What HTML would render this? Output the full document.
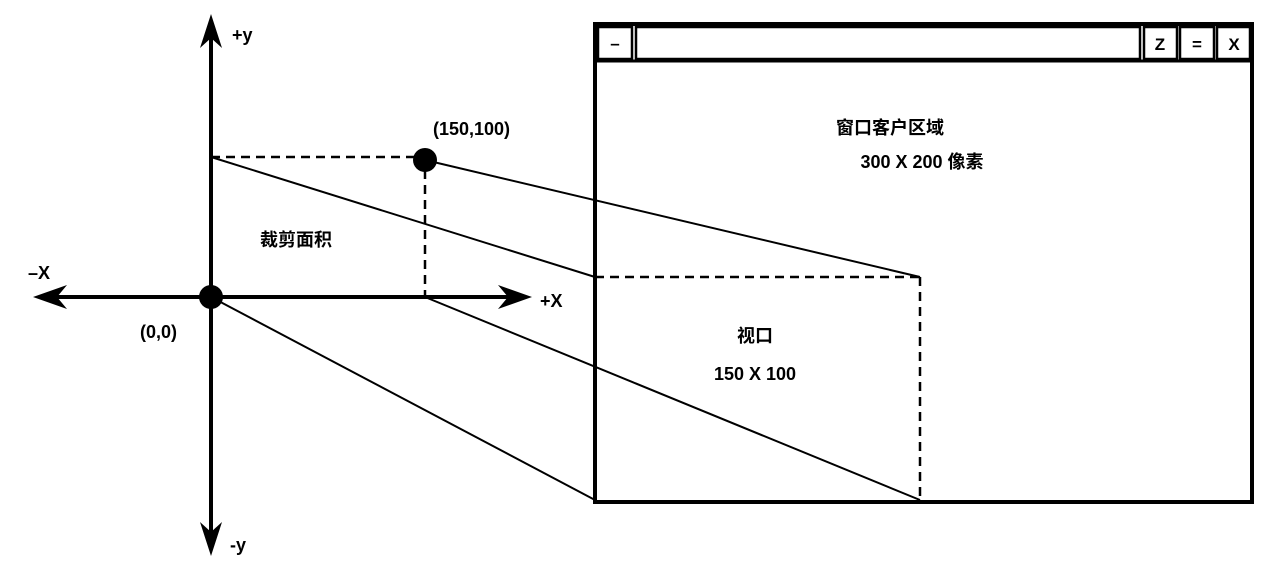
<!DOCTYPE html>
<html><head><meta charset="utf-8"><style>
html,body{margin:0;padding:0;background:#fff;}
svg{display:block;}
text{font-family:"Liberation Sans","Noto Sans CJK SC",sans-serif;font-weight:bold;fill:#000;}
</style></head><body>
<svg width="1288" height="570" viewBox="0 0 1288 570">
<!-- window -->
<g stroke="#000" fill="#fff">
<rect x="595" y="24" width="657" height="478" stroke-width="4"/>
<line x1="595" y1="61" x2="1252" y2="61" stroke-width="3"/>
<rect x="598" y="27" width="34" height="32" stroke-width="2.5"/>
<rect x="636" y="27" width="504" height="32" stroke-width="2.5"/>
<rect x="1144" y="27" width="33" height="32" stroke-width="2.5"/>
<rect x="1180" y="27" width="34" height="32" stroke-width="2.5"/>
<rect x="1217" y="27" width="33" height="32" stroke-width="2.5"/>
</g>
<g stroke="#000" fill="none">
<line x1="211" y1="30" x2="211" y2="540" stroke-width="4"/>
<line x1="50" y1="297" x2="515" y2="297" stroke-width="4"/>
</g>
<g stroke="#000" stroke-width="2.5" fill="none" stroke-dasharray="9,6">
<line x1="211" y1="157" x2="415" y2="157"/>
<line x1="425" y1="170" x2="425" y2="297"/>
<line x1="595" y1="277" x2="920" y2="277"/>
<line x1="920" y1="277" x2="920" y2="500"/>
</g>
<g stroke="#000" stroke-width="2" fill="none">
<line x1="211" y1="157" x2="595" y2="277"/>
<line x1="425" y1="160" x2="920" y2="277"/>
<line x1="211" y1="297" x2="595" y2="500"/>
<line x1="425" y1="297" x2="920" y2="500"/>
</g>
<g fill="#000">
<polygon points="211,14 200,48 211,38 222,48"/>
<polygon points="211,556 200,522 211,532 222,522"/>
<polygon points="33,297 67,285 57,297 67,309"/>
<polygon points="532,297 498,285 508,297 498,309"/>
<circle cx="211" cy="297" r="12"/>
<circle cx="425" cy="160" r="12"/>
</g>
<g font-size="17" text-anchor="middle">
<text x="615" y="49">–</text>
<text x="1160" y="50">Z</text>
<text x="1197" y="50">=</text>
<text x="1234" y="50">X</text>
</g>
<g font-size="18">
<text x="232" y="41">+y</text>
<text x="230" y="551">-y</text>
<text x="28" y="279">–X</text>
<text x="540" y="307">+X</text>
<text x="140" y="338">(0,0)</text>
<text x="433" y="135">(150,100)</text>
</g>
<g font-size="18" text-anchor="middle">
<text x="890" y="134">窗口客户区域</text>
<text x="922" y="168">300 X 200 像素</text>
<text x="296" y="246">裁剪面积</text>
<text x="755" y="342">视口</text>
<text x="755" y="380">150 X 100</text>
</g>
</svg>
</body></html>
